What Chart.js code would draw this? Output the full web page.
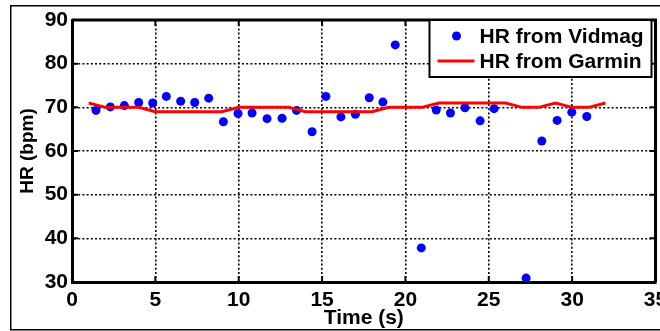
<!DOCTYPE html>
<html>
<head>
<meta charset="utf-8">
<script src="https://cdn.jsdelivr.net/npm/chart.js@4/dist/chart.umd.min.js"></script>
<style>
  html, body { margin: 0; padding: 0; background: #fff; }
  #hrChart { display: block; }
</style>
</head>
<body>
<canvas id="hrChart" width="660" height="331"></canvas>
<script>
// --- Data ---
const VIDMAG_TIME = [1.44, 2.30, 3.14, 4.00, 4.84, 5.66, 6.52, 7.36, 8.20, 9.08, 9.96,
    10.80, 11.70, 12.60, 13.47, 14.40, 15.23, 16.13, 17.00, 17.83, 18.65, 19.39,
    20.95, 21.85, 22.70, 23.57, 24.48, 25.32, 27.24, 28.18, 29.10, 29.98, 30.88];
const VIDMAG_HR = [69.3, 70.1, 70.4, 71.1, 71.0, 72.5, 71.4, 71.1, 72.1, 66.7, 68.6,
    68.7, 67.4, 67.5, 69.3, 64.4, 72.5, 67.8, 68.4, 72.2, 71.2, 84.3,
    37.8, 69.4, 68.7, 69.9, 66.9, 69.7, 30.9, 62.3, 67.0, 68.9, 67.9];

const GARMIN_TIME = [1, 2, 3, 4, 5, 6, 7, 8, 9, 10, 11, 12, 13, 14, 15, 16,
    17, 18, 19, 20, 21, 22, 23, 24, 25, 26, 27, 28, 29, 30, 31, 32];
const GARMIN_HR = [71, 70, 70, 70, 69, 69, 69, 69, 69, 70, 70, 70, 70, 69, 69, 69,
    69, 69, 70, 70, 70, 71, 71, 71, 71, 71, 70, 70, 71, 70, 70, 71];

const X_TICKS = { min: 0, max: 35, step: 5 };
const Y_TICKS = { min: 30, max: 90, step: 10 };

const SERIES_LABELS = ['HR from Vidmag', 'HR from Garmin'];
const X_TITLE = 'Time (s)';
const Y_TITLE = 'HR (bpm)';

// --- Helpers ---
const toPoints = (xs, ys) => xs.map((x, i) => ({ x, y: ys[i] }));

Chart.defaults.font.family = "'Liberation Sans', Arial, Helvetica, sans-serif";
Chart.defaults.color = '#000';

// MATLAB-like box: top/right edges, inward ticks, outer figure frame
const matlabBox = {
    id: 'matlabBox',
    beforeDatasetsDraw(chart) {
        const { ctx, chartArea: a, scales } = chart;
        ctx.save();
        ctx.strokeStyle = '#000';
        ctx.lineWidth = 3;
        ctx.beginPath();
        ctx.moveTo(a.left, a.top);
        ctx.lineTo(a.right, a.top);
        ctx.lineTo(a.right, a.bottom);
        ctx.stroke();

        ctx.lineWidth = 2;
        const tl = 6;
        ctx.beginPath();
        for (let v = X_TICKS.min; v <= X_TICKS.max; v += X_TICKS.step) {
            const px = scales.x.getPixelForValue(v);
            ctx.moveTo(px, a.bottom); ctx.lineTo(px, a.bottom - tl);
            ctx.moveTo(px, a.top); ctx.lineTo(px, a.top + tl);
        }
        for (let v = Y_TICKS.min; v <= Y_TICKS.max; v += Y_TICKS.step) {
            const py = scales.y.getPixelForValue(v);
            ctx.moveTo(a.left, py); ctx.lineTo(a.left + tl, py);
            ctx.moveTo(a.right, py); ctx.lineTo(a.right - tl, py);
        }
        ctx.stroke();
        ctx.restore();
    },
    afterDraw(chart) {
        const { ctx } = chart;
        ctx.save();
        ctx.strokeStyle = '#000';
        ctx.lineWidth = 1.5;
        ctx.strokeRect(10.75, 5.75, 700, 324);
        ctx.restore();
    }
};

// Legend boxed inside the top-right corner of the axes
const insideLegend = {
    id: 'insideLegend',
    afterDatasetsDraw(chart) {
        const { ctx, chartArea: a } = chart;
        const w = 222, h = 57;
        const x0 = a.right - 4 - w, y0 = a.top;
        ctx.save();
        ctx.fillStyle = '#fff';
        ctx.fillRect(x0, y0, w, h);
        ctx.strokeStyle = '#000';
        ctx.lineWidth = 2;
        ctx.strokeRect(x0, y0, w, h);

        ctx.font = "bold 21px 'Liberation Sans', Arial, sans-serif";
        ctx.textBaseline = 'middle';
        ctx.textAlign = 'left';

        chart.data.datasets.forEach((ds, i) => {
            const cy = y0 + 16 + i * 25;
            if (ds.showLine === false) {
                ctx.fillStyle = ds.backgroundColor;
                ctx.beginPath();
                ctx.arc(x0 + 27, cy, ds.pointRadius, 0, Math.PI * 2);
                ctx.fill();
            } else {
                ctx.strokeStyle = ds.borderColor;
                ctx.lineWidth = ds.borderWidth;
                ctx.beginPath();
                ctx.moveTo(x0 + 8, cy);
                ctx.lineTo(x0 + 45, cy);
                ctx.stroke();
            }
            ctx.fillStyle = '#000';
            ctx.fillText(ds.label, x0 + 50, cy + 1);
        });
        ctx.restore();
    }
};

new Chart(document.getElementById('hrChart'), {
    type: 'scatter',
    data: {
        datasets: [
            {
                label: SERIES_LABELS[0],
                data: toPoints(VIDMAG_TIME, VIDMAG_HR),
                showLine: false,
                backgroundColor: '#0000ff',
                borderColor: '#0000ff',
                borderWidth: 0,
                pointRadius: 4.5,
                order: 1
            },
            {
                label: SERIES_LABELS[1],
                data: toPoints(GARMIN_TIME, GARMIN_HR),
                showLine: true,
                borderColor: '#ff0000',
                backgroundColor: '#ff0000',
                borderWidth: 3,
                pointRadius: 0,
                tension: 0,
                order: 0
            }
        ]
    },
    options: {
        responsive: false,
        animation: false,
        devicePixelRatio: 1,
        layout: { padding: { left: 0, top: 20, right: 4, bottom: 0 } },
        plugins: {
            legend: { display: false },
            tooltip: { enabled: false }
        },
        scales: {
            x: {
                type: 'linear',
                min: X_TICKS.min,
                max: X_TICKS.max,
                ticks: {
                    stepSize: X_TICKS.step,
                    autoSkip: false,
                    maxRotation: 0,
                    padding: 6,
                    color: '#000',
                    font: { size: 21, weight: 'bold' }
                },
                grid: { color: '#000', lineWidth: 1.6, drawTicks: false },
                border: { display: true, color: '#000', width: 3, dash: [2, 2.2] },
                title: {
                    display: true,
                    text: X_TITLE,
                    color: '#000',
                    font: { size: 21, weight: 'bold' },
                    padding: { top: 0, bottom: 0 }
                },
                afterFit(scale) {
                    scale.height = 49;
                    scale.paddingLeft = 0;
                    scale.paddingRight = 0;
                }
            },
            y: {
                type: 'linear',
                min: Y_TICKS.min,
                max: Y_TICKS.max,
                ticks: {
                    stepSize: Y_TICKS.step,
                    padding: 4,
                    color: '#000',
                    font: { size: 21, weight: 'bold' }
                },
                grid: { color: '#000', lineWidth: 1.6, drawTicks: false },
                border: { display: true, color: '#000', width: 3, dash: [2, 2.2] },
                title: {
                    display: true,
                    text: Y_TITLE,
                    color: '#000',
                    font: { size: 19, weight: 'bold' },
                    padding: { top: 16, bottom: 0 }
                },
                afterFit(scale) {
                    scale.width = 72;
                    scale.paddingTop = 0;
                    scale.paddingBottom = 0;
                }
            }
        }
    },
    plugins: [matlabBox, insideLegend]
});
</script>
</body>
</html>
